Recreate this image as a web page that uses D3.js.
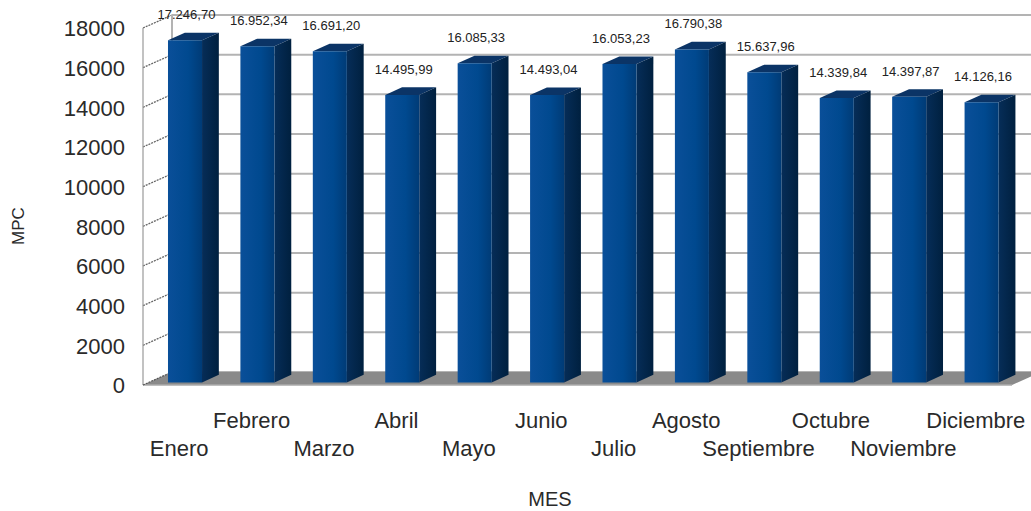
<!DOCTYPE html>
<html><head><meta charset="utf-8">
<script src="https://cdn.jsdelivr.net/npm/d3@7"></script>
<style>
body{margin:0;background:#fff}
text{font-family:"Liberation Sans",Arial,sans-serif;fill:#333}
</style>
</head><body>
<svg id="c" width="1031" height="511"></svg>
<script>
const months = ["Enero","Febrero","Marzo","Abril","Mayo","Junio","Julio","Agosto","Septiembre","Octubre","Noviembre","Diciembre"];
const values = [17246.70,16952.34,16691.20,14495.99,16085.33,14493.04,16053.23,16790.38,15637.96,14339.84,14397.87,14126.16];
const yTicks = [0,2000,4000,6000,8000,10000,12000,14000,16000,18000];
const yTitle = "MPC";
const xTitle = "MES";

const svg = d3.select("#c");
const X0 = 143, X1 = 1012, YT = 28, YB = 385;
const DX = 29, DY = -13;   // depth offset
const Z0 = 0.2, Z1 = 0.78;

const x = d3.scaleBand().domain(months).range([X0, X1]).paddingInner(0.53).paddingOuter(0.265);
const y = d3.scaleLinear().domain([0, 18000]).range([YB, YT]);
const loc = d3.formatLocale({decimal: ",", thousands: ".", grouping: [3], currency: ["", ""]});
const fmt = loc.format(",.2f");

const defs = svg.append("defs");
const gF = defs.append("linearGradient").attr("id", "gf");
[[0,"#0a4f99"],[0.6,"#00498f"],[1,"#003b76"]].forEach(s=>gF.append("stop").attr("offset",s[0]).attr("stop-color",s[1]));
const gS = defs.append("linearGradient").attr("id", "gs");
[[0,"#062d58"],[1,"#00203f"]].forEach(s=>gS.append("stop").attr("offset",s[0]).attr("stop-color",s[1]));

const P = (px, py, z) => [px + DX*z, py + DY*z];

// walls
const wall = svg.append("g");
wall.selectAll("line.grid").data(yTicks).join("line")
  .attr("x1", X0+DX).attr("x2", X1+DX+40)
  .attr("y1", d=>y(d)+DY).attr("y2", d=>y(d)+DY)
  .attr("stroke", "#b3b3b3").attr("stroke-width", 2);
wall.selectAll("line.diag").data(yTicks.filter(d=>d>0)).join("line")
  .attr("x1", X0).attr("x2", X0+DX)
  .attr("y1", d=>y(d)).attr("y2", d=>y(d)+DY)
  .attr("stroke", "#666").attr("stroke-width", 1.3).attr("stroke-dasharray","2,1");
wall.append("line").attr("x1",X0+DX).attr("x2",X0+DX).attr("y1",y(18000)+DY).attr("y2",YB+DY)
  .attr("stroke","#b3b3b3").attr("stroke-width",2);
wall.append("line").attr("x1",X0).attr("x2",X0).attr("y1",y(18000)).attr("y2",YB)
  .attr("stroke","#999").attr("stroke-width",1.2);

// floor
svg.append("polygon")
  .attr("points", [[X0,YB],[X1,YB],[X1+DX,YB+DY],[X0+DX,YB+DY]].map(p=>p.join(",")).join(" "))
  .attr("fill", "#8a8a8a");
svg.append("line").attr("x1",X0).attr("x2",X1).attr("y1",YB).attr("y2",YB).attr("stroke","#aaa").attr("stroke-width",1.5);
svg.append("line").attr("x1",X0).attr("x2",X0+DX).attr("y1",YB).attr("y2",YB+DY)
  .attr("stroke","#555").attr("stroke-width",1.2).attr("stroke-dasharray","2,1");

// bars
const bw = x.bandwidth();
const bars = svg.append("g").selectAll("g").data(months.map((m,i)=>({m, v: values[i]}))).join("g");
bars.append("polygon").attr("fill","#0b3466").attr("points", d=>{
  const l = x(d.m), r = l+bw, t = y(d.v);
  return [P(l,t,Z0),P(r,t,Z0),P(r,t,Z1),P(l,t,Z1)].map(p=>p.join(",")).join(" ");
});
bars.append("polygon").attr("fill","url(#gs)").attr("points", d=>{
  const r = x(d.m)+bw, t = y(d.v);
  return [P(r,t,Z0),P(r,t,Z1),P(r,YB,Z1),P(r,YB,Z0)].map(p=>p.join(",")).join(" ");
});
bars.append("polygon").attr("fill","url(#gf)").attr("points", d=>{
  const l = x(d.m), r = l+bw, t = y(d.v);
  return [P(l,t,Z0),P(r,t,Z0),P(r,YB,Z0),P(l,YB,Z0)].map(p=>p.join(",")).join(" ");
});
bars.append("text")
  .attr("x", d=>x(d.m)+bw/2+DX*0.25)
  .attr("y", d=>y(d.v)+DY*0.25-20.5)
  .attr("text-anchor","middle").attr("font-size",13).style("fill","#222")
  .text(d=>fmt(d.v));

// y axis
const ya = svg.append("g").attr("transform",`translate(${X0},0)`)
  .call(d3.axisLeft(y).tickValues(yTicks).tickSize(0).tickPadding(18).tickFormat(d3.format("d")));
ya.select(".domain").remove();
ya.selectAll("text").attr("font-size",22).attr("font-family","Liberation Sans, Arial, sans-serif").style("fill","#2a2a2a").attr("dy","0.36em");

// category labels (staggered)
svg.append("g").selectAll("text").data(months).join("text")
  .attr("x", d=>x(d)+bw/2)
  .attr("y", (d,i)=> i%2 ? 428 : 456)
  .attr("text-anchor","middle").attr("font-size",22).style("fill","#2a2a2a")
  .text(d=>d);

// axis titles
svg.append("text").attr("transform","translate(24,226) rotate(-90)")
  .attr("text-anchor","middle").attr("font-size",17).style("fill","#2a2a2a").text(yTitle);
svg.append("text").attr("x",550).attr("y",506)
  .attr("text-anchor","middle").attr("font-size",20).style("fill","#2a2a2a").text(xTitle);
</script>
</body></html>
